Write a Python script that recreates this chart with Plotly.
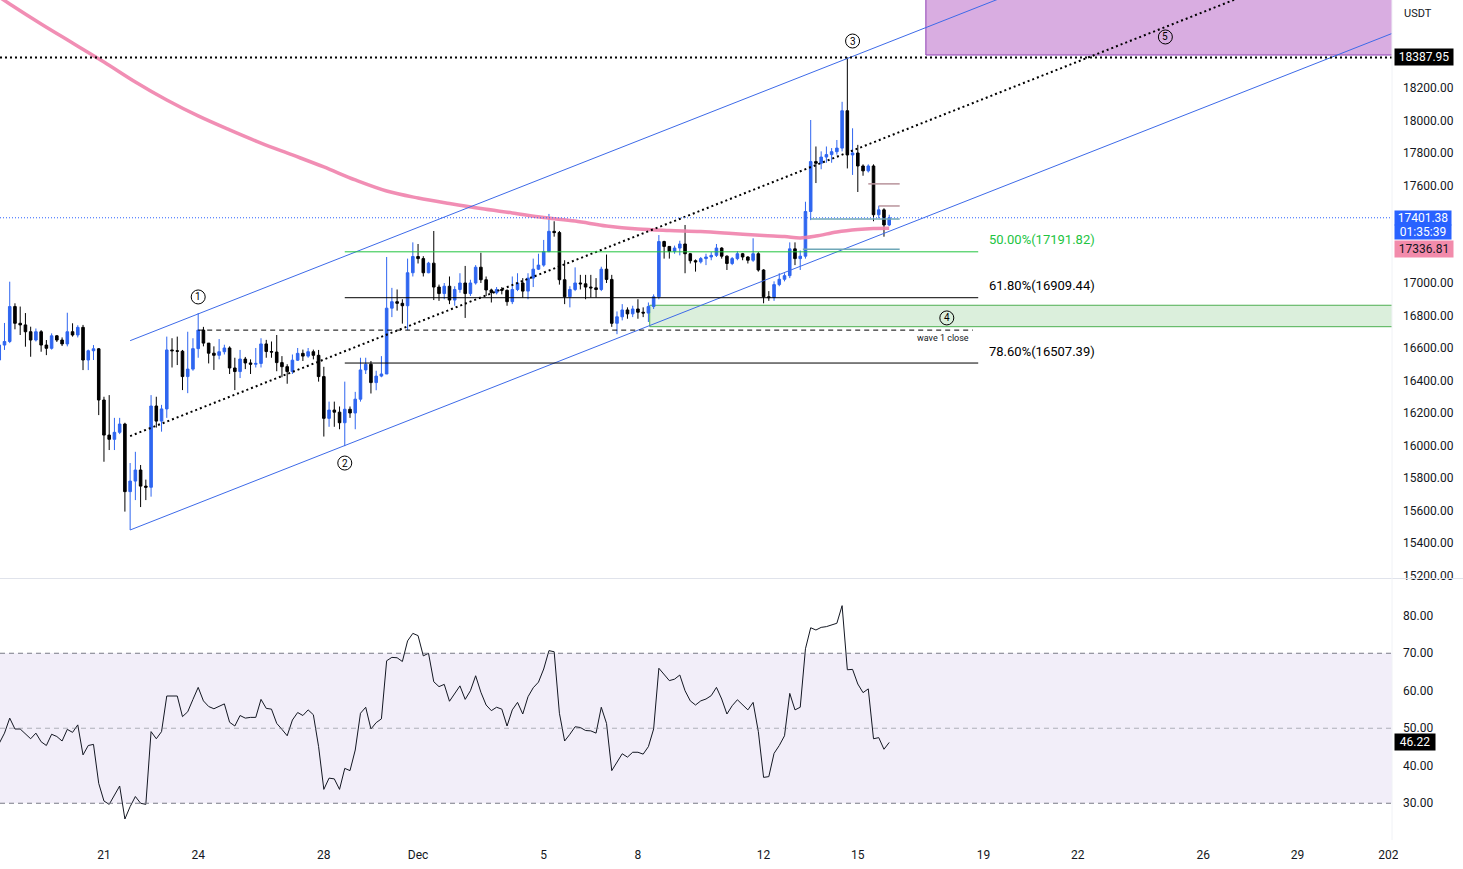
import pandas as pd
import plotly.graph_objects as go

# ---------------- data (4h bars, BTC/USDT) ----------------
bar_start = "2022-11-17 16:00"
first_open = 16526
closes = [16618, 16640, 16855, 16752, 16742, 16700, 16649, 16700, 16618, 16598,
          16675, 16649, 16625, 16700, 16680, 16727, 16526, 16583, 16595, 16280,
          16064, 16038, 16081, 16132, 15716, 15781, 15849, 15750, 15743, 16243,
          16150, 16225, 16588, 16583, 16580, 16424, 16470, 16596, 16710, 16630,
          16568, 16555, 16577, 16600, 16477, 16455, 16532, 16508, 16500, 16505,
          16625, 16578, 16575, 16510, 16485, 16455, 16525, 16567, 16550, 16577,
          16555, 16424, 16167, 16218, 16205, 16140, 16223, 16200, 16285, 16465,
          16500, 16387, 16427, 16440, 16845, 16885, 16875, 16860, 17063, 17163,
          17150, 17063, 17122, 16975, 16935, 16980, 16895, 16960, 17000, 16935,
          17000, 17097, 17020, 16957, 16940, 16960, 16955, 16885, 16960, 17000,
          16950, 17030, 17085, 17110, 17193, 17318, 17310, 17020, 16915, 16960,
          17000, 16995, 16975, 16970, 16960, 17085, 17022, 16752, 16792, 16834,
          16810, 16840, 16820, 16815, 16855, 16915, 17255, 17225, 17195, 17215,
          17240, 17180, 17137, 17130, 17150, 17160, 17170, 17215, 17165, 17120,
          17150, 17180, 17160, 17140, 17180, 17080, 16915, 16910, 16990, 17023,
          17045, 17210, 17150, 17165, 17440, 17747, 17737, 17775, 17790, 17808,
          17830, 18060, 17788, 17800, 17720, 17690, 17720, 17420, 17450, 17357, 17401.38]
highs = [16649, 16754, 17008, 16875, 16855, 16815, 16731, 16720, 16710, 16649,
         16690, 16680, 16665, 16817, 16752, 16740, 16742, 16590, 16618, 16600,
         16300, 16310, 16170, 16170, 16140, 15892, 15961, 15880, 15790, 16310,
         16300, 16250, 16670, 16660, 16670, 16588, 16700, 16660, 16815, 16730,
         16630, 16610, 16655, 16620, 16610, 16540, 16588, 16545, 16530, 16600,
         16660, 16650, 16640, 16680, 16550, 16500, 16560, 16600, 16590, 16600,
         16590, 16588, 16484, 16270, 16270, 16240, 16393, 16240, 16330, 16540,
         16540, 16520, 16460, 16550, 17160, 16970, 16960, 16900, 17150, 17250,
         17240, 17165, 17130, 17320, 16990, 17000, 17040, 16980, 17060, 17105,
         17020, 17110, 17186, 17040, 16965, 16975, 16975, 16960, 17040, 17060,
         17030, 17060, 17150, 17180, 17265, 17425, 17380, 17320, 17140, 16980,
         17096, 17050, 17050, 17050, 17030, 17100, 17175, 17050, 16825, 16870,
         16850, 16860, 16900, 16850, 16880, 16930, 17295, 17260, 17220, 17230,
         17260, 17357, 17185, 17145, 17160, 17180, 17190, 17240, 17220, 17170,
         17160, 17195, 17185, 17165, 17275, 17190, 17085, 16950, 17010, 17060,
         17060, 17250, 17250, 17200, 17500, 18003, 17840, 17810, 17840, 17830,
         17880, 18115, 18387.95, 17952, 17850, 17730, 17730, 17730, 17475, 17460, 17420]
lows = [16495, 16588, 16630, 16715, 16680, 16608, 16546, 16640, 16577, 16556,
        16590, 16637, 16612, 16610, 16670, 16665, 16464, 16464, 16526, 16187,
        15900, 15972, 15972, 16070, 15593, 15480, 15664, 15621, 15664, 15685,
        16110, 16085, 16170, 16480, 16495, 16341, 16322, 16460, 16540, 16610,
        16505, 16465, 16530, 16560, 16440, 16341, 16415, 16470, 16440, 16480,
        16480, 16540, 16540, 16457, 16420, 16380, 16440, 16520, 16520, 16540,
        16530, 16393, 16055, 16115, 16115, 16100, 15996, 16170, 16100, 16270,
        16440, 16320, 16340, 16420, 16440, 16790, 16830, 16750, 16710, 17040,
        17120, 17040, 17060, 16895, 16890, 16900, 16870, 16860, 16940, 16785,
        16920, 16990, 17000, 16920, 16880, 16930, 16930, 16860, 16870, 16950,
        16910, 16900, 16975, 17080, 17100, 17190, 17285, 16990, 16870, 16850,
        16950, 16960, 16900, 16910, 16910, 16950, 17000, 16730, 16685, 16770,
        16780, 16790, 16780, 16790, 16760, 16840, 16900, 17150, 17150, 17180,
        17170, 17060, 17120, 17070, 17120, 17110, 17140, 17160, 17150, 17080,
        17110, 17140, 17140, 17120, 17130, 17070, 16875, 16890, 16890, 16980,
        17010, 17030, 17110, 17080, 17150, 17387, 17615, 17700, 17740, 17740,
        17790, 17810, 17705, 17665, 17560, 17660, 17680, 17380, 17400, 17285, 17350]
rsi = [46.0, 48.7, 52.7, 49.8, 49.8, 48.4, 47.2, 48.7, 46.4, 45.4,
       48.4, 47.8, 46.6, 49.7, 48.9, 50.9, 42.9, 45.4, 45.7, 35.3,
       30.6, 29.7, 32.2, 34.6, 25.8, 29.1, 31.8, 30.0, 29.7, 49.1,
       47.2, 49.1, 58.6, 58.6, 58.6, 53.1, 54.4, 57.7, 60.9, 57.3,
       55.8, 55.2, 55.8, 56.5, 51.6, 50.6, 53.4, 52.7, 52.9, 52.9,
       57.7, 55.3, 55.1, 51.3, 49.7, 48.0, 52.2, 54.2, 53.4, 54.9,
       53.6, 45.1, 33.7, 36.7, 36.5, 33.7, 39.3, 38.7, 44.2, 54.0,
       55.6, 49.8, 51.5, 52.5, 68.0, 68.9, 68.8, 67.8, 73.3, 75.3,
       74.7, 69.3, 70.0, 62.4, 61.1, 61.7, 57.2, 59.3, 61.3, 57.7,
       60.0, 64.0, 59.6, 56.2, 54.7, 55.6, 55.1, 50.6, 54.9, 56.9,
       53.8, 58.4, 60.8, 62.3, 65.8, 70.7, 70.4, 54.0, 46.6, 48.4,
       50.4, 50.2, 49.4, 49.3, 48.7, 55.6, 51.3, 38.7, 40.9, 43.2,
       42.3, 43.6, 43.6, 43.1, 45.1, 49.8, 66.0, 64.2, 62.7, 63.1,
       64.2, 60.0, 57.3, 56.2, 57.3, 57.8, 58.7, 60.9, 57.8, 53.8,
       56.0, 57.6, 56.2, 54.9, 56.9, 49.1, 36.9, 37.1, 43.3, 45.4,
       48.0, 59.3, 54.9, 55.6, 71.2, 76.8, 76.2, 76.9, 77.1, 77.6,
       78.0, 82.7, 65.6, 65.7, 61.8, 59.5, 60.5, 47.2, 47.5, 44.4, 46.22]

ema_times = ["2022-11-17 16:00", "2022-11-18 00:00", "2022-11-19 00:00", "2022-11-20 00:00",
             "2022-11-21 00:00", "2022-11-22 00:00", "2022-11-23 00:00", "2022-11-24 00:00",
             "2022-11-25 00:00", "2022-11-26 00:00", "2022-11-27 00:00", "2022-11-28 00:00",
             "2022-11-29 00:00", "2022-11-30 00:00", "2022-12-01 00:00", "2022-12-02 00:00",
             "2022-12-03 00:00", "2022-12-04 00:00", "2022-12-05 00:00", "2022-12-06 00:00",
             "2022-12-07 00:00", "2022-12-08 00:00", "2022-12-09 00:00", "2022-12-10 00:00",
             "2022-12-11 00:00", "2022-12-12 00:00", "2022-12-12 16:00", "2022-12-13 04:00",
             "2022-12-13 16:00", "2022-12-14 08:00", "2022-12-15 00:00", "2022-12-15 12:00",
             "2022-12-16 00:00"]
ema_vals = [18760, 18717, 18594, 18477, 18360, 18237, 18126, 18028, 17942, 17861, 17788,
            17714, 17634, 17566, 17523, 17489, 17458, 17431, 17403, 17381, 17351, 17332,
            17323, 17317, 17305, 17292, 17286, 17277, 17289, 17314, 17329, 17335, 17336.81]

# drawings
channel_lower = [("2022-11-21 20:00", 15480), ("2023-01-01 00:00", 18535)]
channel_upper = [("2022-11-21 20:00", 16645), ("2023-01-01 00:00", 19700)]
channel_mid = [("2022-11-21 20:00", 16058), ("2023-01-01 00:00", 19126)]
wave3_high = 18387.95
last_price = 17401.38
countdown = "01:35:39"
ema_last = 17336.81
fib_start, fib_end = "2022-11-28 16:00", "2022-12-18 20:00"
fib_names = ["50.00%", "61.80%", "78.60%"]
fib_prices = [17191.82, 16909.44, 16507.39]
wave1_close = 16710
wave1_close_span = ("2022-11-24 00:00", "2022-12-18 16:00")
zone4 = ("2022-12-08 09:00", 16731, 16863)
zone5 = ("2022-12-17 04:00", 18403, 19500)
wave_labels = ["1", "2", "3", "4", "5"]
wave_times = ["2022-11-24 00:00", "2022-11-28 16:00", "2022-12-14 20:00", "2022-12-17 20:00", "2022-12-24 19:00"]
wave_prices = [16914, 15892, 18489, 16785, 18514]
day_lines = [("2022-12-15 08:00", 17610, "#b8939b"), ("2022-12-15 16:00", 17474, "#b8939b"),
             ("2022-12-13 12:00", 17394, "#6fa7b8"), ("2022-12-13 06:00", 17207, "#6fa7b8")]
day_lines_end = "2022-12-16 08:00"

x_ticks = ["2022-11-21", "2022-11-24", "2022-11-28", "2022-12-01", "2022-12-05", "2022-12-08",
           "2022-12-12", "2022-12-15", "2022-12-19", "2022-12-22", "2022-12-26", "2022-12-29", "2023-01-01"]
x_labels = ["21", "24", "28", "Dec", "5", "8", "12", "15", "19", "22", "26", "29", "2023"]
# 17200 / 17400 / 18400 are hidden behind the price labels on the scale
price_ticks = [15200, 15400, 15600, 15800, 16000, 16200, 16400, 16600, 16800, 17000,
               17600, 17800, 18000, 18200]
rsi_ticks = [30, 40, 50, 60, 70, 80]

# ---------------- figure ----------------
times = pd.date_range(bar_start, periods=len(closes), freq="4h")
opens = [first_open] + closes[:-1]
highs_c = [max(h, o, c) for h, o, c in zip(highs, opens, closes)]
lows_c = [min(l, o, c) for l, o, c in zip(lows, opens, closes)]

BLUE = "#2f66f0"
FONT = "Roboto"
TXT = "#131722"

fig = go.Figure()
fig.add_trace(go.Scatter(x=ema_times, y=ema_vals, mode="lines",
                         line=dict(color="rgba(240,130,172,0.9)", width=3.5, shape="spline"),
                         xaxis="x", yaxis="y", hoverinfo="skip"))
fig.add_trace(go.Candlestick(x=times, open=opens, high=highs_c, low=lows_c, close=closes,
                             increasing=dict(line=dict(color=BLUE, width=1), fillcolor=BLUE),
                             decreasing=dict(line=dict(color="#000000", width=1), fillcolor="#000000"),
                             whiskerwidth=0, xaxis="x", yaxis="y"))
fig.add_trace(go.Scatter(x=times, y=rsi, mode="lines", line=dict(color=TXT, width=1),
                         xaxis="x", yaxis="y2", hoverinfo="skip"))

shapes = []
shapes.append(dict(type="rect", xref="paper", yref="y2", x0=0, x1=1, y0=30, y1=70,
                   fillcolor="rgba(126,87,194,0.10)", line=dict(width=0), layer="below"))
for lv, col in [(70, "#787b86"), (50, "rgba(120,123,134,0.55)"), (30, "#787b86")]:
    shapes.append(dict(type="line", xref="paper", yref="y2", x0=0, x1=1, y0=lv, y1=lv,
                       line=dict(color=col, width=1, dash="5px,4px")))
for seg, dash, col, w in [(channel_lower, None, "#3d6ae8", 1), (channel_upper, None, "#3d6ae8", 1),
                          (channel_mid, "2px,3px", "#000000", 2)]:
    shapes.append(dict(type="line", xref="x", yref="y", x0=seg[0][0], y0=seg[0][1],
                       x1=seg[1][0], y1=seg[1][1], line=dict(color=col, width=w, dash=dash)))
shapes.append(dict(type="rect", xref="x", yref="y", x0=zone4[0], x1="2023-01-10 00:00",
                   y0=zone4[1], y1=zone4[2], fillcolor="rgba(76,175,80,0.2)",
                   line=dict(color="#4caf50", width=1), layer="below"))
shapes.append(dict(type="rect", xref="x", yref="y", x0=zone5[0], x1="2023-01-10 00:00",
                   y0=zone5[1], y1=zone5[2], fillcolor="rgba(156,39,176,0.38)",
                   line=dict(color="#8e3fb5", width=1), layer="below"))
shapes.append(dict(type="line", xref="paper", yref="y", x0=0, x1=1, y0=wave3_high, y1=wave3_high,
                   line=dict(color="#000000", width=2, dash="2px,3px")))
shapes.append(dict(type="line", xref="paper", yref="y", x0=0, x1=1, y0=last_price, y1=last_price,
                   line=dict(color="#2962ff", width=1, dash="1px,2px")))
fib_colors = ["#22c43f", "#000000", "#000000"]
for p, c in zip(fib_prices, fib_colors):
    shapes.append(dict(type="line", xref="x", yref="y", x0=fib_start, x1=fib_end, y0=p, y1=p,
                       line=dict(color=c, width=1)))
shapes.append(dict(type="line", xref="x", yref="y", x0=wave1_close_span[0], x1=wave1_close_span[1],
                   y0=wave1_close, y1=wave1_close, line=dict(color="#000000", width=1, dash="5px,4px")))
for t0, p, c in day_lines:
    shapes.append(dict(type="line", xref="x", yref="y", x0=t0, x1=day_lines_end, y0=p, y1=p,
                       line=dict(color=c, width=1.5)))
for t, p in zip(wave_times, wave_prices):
    shapes.append(dict(type="circle", xref="x", yref="y", xsizemode="pixel", ysizemode="pixel",
                       xanchor=t, yanchor=p, x0=-7, x1=7, y0=-7, y1=7,
                       line=dict(color="#000000", width=1), fillcolor="rgba(0,0,0,0)"))
shapes.append(dict(type="line", xref="paper", yref="paper", x0=0, x1=1.06, y0=0.3113, y1=0.3113,
                   line=dict(color="#e0e3eb", width=1)))
shapes.append(dict(type="line", xref="paper", yref="paper", x0=1, x1=1, y0=0, y1=1,
                   line=dict(color="#f0f2f6", width=1)))
shapes.append(dict(type="rect", xref="paper", yref="paper", x0=1.0045, x1=1.06, y0=-0.04, y1=-0.001,
                   fillcolor="#ffffff", line=dict(width=0), layer="above"))

ann = []
for lab, t, p in zip(wave_labels, wave_times, wave_prices):
    ann.append(dict(text=lab, x=t, y=p, xref="x", yref="y", showarrow=False,
                    font=dict(family=FONT, size=10, color="#000000")))
for name, p, c in zip(fib_names, fib_prices, fib_colors):
    ann.append(dict(text=f"{name}({p:.2f})", x=fib_end, y=p, xref="x", yref="y", showarrow=False,
                    xanchor="left", yanchor="middle", xshift=9, yshift=12,
                    font=dict(family=FONT, size=13, color=c)))
ann.append(dict(text="wave 1 close", x=wave1_close_span[1], y=wave1_close, xref="x", yref="y",
                showarrow=False, xanchor="right", yanchor="middle", yshift=-8, xshift=-2,
                font=dict(family=FONT, size=9, color="#131722")))


def scale_label(text, y, yref, bg, fg, yshift=0, width=56, pad=1, size=12):
    return dict(text=text, x=1, xref="paper", y=y, yref=yref, showarrow=False, xanchor="left",
                yanchor="middle", xshift=2, yshift=yshift, bgcolor=bg, borderpad=pad, width=width,
                align="center", font=dict(family=FONT, size=size, color=fg))


ann.append(scale_label(f"{wave3_high:.2f}", wave3_high, "y", "#000000", "#ffffff"))
ann.append(scale_label(f"{last_price:.2f}", last_price, "y", "#2962ff", "#ffffff", yshift=0, pad=0))
ann.append(scale_label(countdown, last_price, "y", "#2962ff", "#ffffff", yshift=-14, pad=0))
ann.append(scale_label(f"{ema_last:.2f}", ema_last, "y", "#f28bab", "#131722", yshift=-21))
ann.append(scale_label(f"{rsi[-1]:.2f}", rsi[-1], "y2", "#000000", "#ffffff", width=38))
ann.append(dict(text="USDT", x=1, xref="paper", y=1, yref="paper", showarrow=False,
                xanchor="left", yanchor="top", xshift=10, yshift=-5,
                font=dict(family=FONT, size=11, color=TXT)))

fig.update_layout(
    width=1463, height=869, margin=dict(l=0, r=71, t=0, b=29),
    paper_bgcolor="#ffffff", plot_bgcolor="#ffffff", showlegend=False,
    font=dict(family=FONT, size=12, color=TXT),
    shapes=shapes, annotations=ann,
    xaxis=dict(type="date", range=["2022-11-17 16:34", "2023-01-01 00:10"], anchor="y2",
               tickvals=x_ticks, ticktext=x_labels, showgrid=False, zeroline=False,
               rangeslider=dict(visible=False), ticks="", ticklabelstandoff=6,
               tickfont=dict(family=FONT, size=12, color=TXT), showline=False),
    yaxis=dict(domain=[0.3119, 1], range=[15184.5, 18741.5], side="right", anchor="x",
               tickvals=price_ticks, ticktext=[f"{v:.2f}" for v in price_ticks],
               showgrid=False, zeroline=False, ticks="", ticklabelstandoff=10,
               tickfont=dict(family=FONT, size=12, color=TXT)),
    yaxis2=dict(domain=[0, 0.3107], range=[20.2, 89.8], side="right", anchor="x",
                tickvals=rsi_ticks, ticktext=[f"{v:.2f}" for v in rsi_ticks],
                showgrid=False, zeroline=False, ticks="", ticklabelstandoff=10,
                tickfont=dict(family=FONT, size=12, color=TXT)),
)
fig.write_html("out.html", config={"displayModeBar": False},
               post_script="document.body.style.margin='0';document.body.style.overflow='hidden';")
